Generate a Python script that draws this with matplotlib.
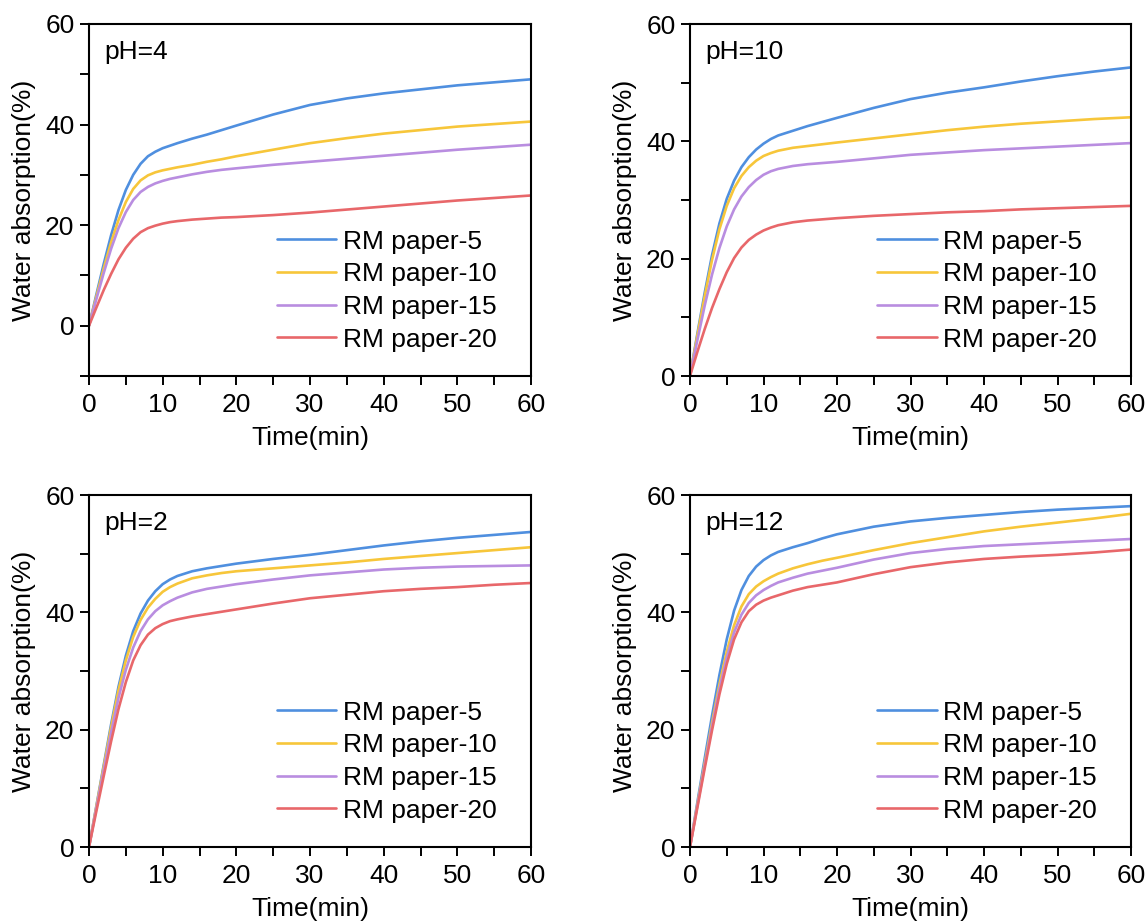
import matplotlib
matplotlib.use("Agg")
import matplotlib.pyplot as plt
from matplotlib.ticker import MultipleLocator

plt.rcParams['font.family'] = ['Liberation Sans', 'DejaVu Sans']

time = [0, 1, 2, 3, 4, 5, 6, 7, 8, 9, 10, 11, 12, 14, 16, 18, 20, 25, 30, 35, 40, 45, 50, 55, 60]
labels = ["RM paper-5", "RM paper-10", "RM paper-15", "RM paper-20"]
colors = ["#4f8fdf", "#f7c63a", "#b98de0", "#e8676a"]

ph4_p5 = [0, 6.2, 12.3, 18.0, 23.0, 27.0, 30.0, 32.2, 33.7, 34.6, 35.3, 35.8, 36.3, 37.2, 38.0, 38.9, 39.8, 42.0, 43.9, 45.2, 46.2, 47.0, 47.8, 48.4, 49.0]
ph4_p10 = [0, 5.8, 11.4, 16.6, 21.0, 24.6, 27.2, 28.9, 29.9, 30.5, 30.9, 31.2, 31.5, 32.0, 32.6, 33.1, 33.7, 35.0, 36.3, 37.3, 38.2, 38.9, 39.6, 40.1, 40.6]
ph4_p15 = [0, 5.3, 10.5, 15.3, 19.4, 22.6, 25.0, 26.6, 27.6, 28.3, 28.8, 29.2, 29.5, 30.1, 30.6, 31.0, 31.3, 32.0, 32.6, 33.2, 33.8, 34.4, 35.0, 35.5, 36.0]
ph4_p20 = [0, 3.6, 7.1, 10.3, 13.2, 15.5, 17.3, 18.6, 19.4, 19.9, 20.3, 20.6, 20.8, 21.1, 21.3, 21.5, 21.6, 22.0, 22.5, 23.1, 23.7, 24.3, 24.9, 25.4, 25.9]

ph10_p5 = [0, 7.2, 14.2, 20.6, 26.0, 30.2, 33.3, 35.6, 37.3, 38.6, 39.6, 40.4, 41.0, 41.8, 42.6, 43.3, 44.0, 45.7, 47.2, 48.3, 49.2, 50.2, 51.1, 51.9, 52.6]
ph10_p10 = [0, 6.9, 13.6, 19.8, 25.0, 29.0, 32.0, 34.1, 35.6, 36.7, 37.5, 38.0, 38.4, 38.9, 39.2, 39.5, 39.8, 40.5, 41.2, 41.9, 42.5, 43.0, 43.4, 43.8, 44.1]
ph10_p15 = [0, 6.1, 12.0, 17.3, 21.8, 25.5, 28.4, 30.6, 32.2, 33.4, 34.3, 34.9, 35.3, 35.8, 36.1, 36.3, 36.5, 37.1, 37.7, 38.1, 38.5, 38.8, 39.1, 39.4, 39.7]
ph10_p20 = [0, 4.1, 8.0, 11.6, 14.8, 17.7, 20.1, 21.9, 23.2, 24.1, 24.8, 25.3, 25.7, 26.2, 26.5, 26.7, 26.9, 27.3, 27.6, 27.9, 28.1, 28.4, 28.6, 28.8, 29.0]

ph2_p5 = [0, 7.0, 14.0, 20.9, 27.3, 32.6, 36.8, 39.8, 42.0, 43.6, 44.8, 45.6, 46.2, 47.0, 47.5, 47.9, 48.3, 49.1, 49.8, 50.6, 51.4, 52.1, 52.7, 53.2, 53.7]
ph2_p10 = [0, 6.9, 13.7, 20.4, 26.7, 31.8, 35.8, 38.7, 40.8, 42.3, 43.5, 44.3, 44.9, 45.8, 46.3, 46.7, 47.0, 47.5, 48.0, 48.5, 49.1, 49.6, 50.1, 50.6, 51.1]
ph2_p15 = [0, 6.6, 13.1, 19.5, 25.4, 30.2, 34.0, 36.8, 38.8, 40.2, 41.2, 41.9, 42.5, 43.4, 44.0, 44.4, 44.8, 45.6, 46.3, 46.8, 47.3, 47.6, 47.8, 47.9, 48.0]
ph2_p20 = [0, 6.1, 12.1, 18.0, 23.5, 28.1, 31.8, 34.4, 36.2, 37.3, 38.0, 38.5, 38.8, 39.3, 39.7, 40.1, 40.5, 41.5, 42.4, 43.0, 43.6, 44.0, 44.3, 44.7, 45.0]

ph12_p5 = [0, 7.6, 15.1, 22.4, 29.3, 35.4, 40.3, 43.8, 46.2, 47.8, 48.9, 49.7, 50.3, 51.1, 51.8, 52.6, 53.3, 54.6, 55.5, 56.1, 56.6, 57.1, 57.5, 57.8, 58.1]
ph12_p10 = [0, 7.2, 14.3, 21.2, 27.7, 33.3, 37.8, 41.0, 43.1, 44.4, 45.3, 46.0, 46.6, 47.5, 48.2, 48.8, 49.3, 50.6, 51.8, 52.8, 53.8, 54.6, 55.3, 56.0, 56.8]
ph12_p15 = [0, 7.0, 13.9, 20.6, 26.9, 32.3, 36.6, 39.6, 41.6, 42.9, 43.8, 44.5, 45.1, 45.9, 46.6, 47.1, 47.6, 49.0, 50.1, 50.8, 51.3, 51.6, 51.9, 52.2, 52.5]
ph12_p20 = [0, 6.7, 13.4, 19.9, 26.0, 31.2, 35.4, 38.3, 40.2, 41.3, 42.0, 42.5, 42.9, 43.7, 44.3, 44.7, 45.1, 46.5, 47.7, 48.5, 49.1, 49.5, 49.8, 50.2, 50.7]

panels = [
    ("pH=4", [ph4_p5, ph4_p10, ph4_p15, ph4_p20], (-10, 60)),
    ("pH=10", [ph10_p5, ph10_p10, ph10_p15, ph10_p20], (0, 60)),
    ("pH=2", [ph2_p5, ph2_p10, ph2_p15, ph2_p20], (0, 60)),
    ("pH=12", [ph12_p5, ph12_p10, ph12_p15, ph12_p20], (0, 60)),
]

W, H = 1147, 921
fig = plt.figure(figsize=(W / 100, H / 100), dpi=100)
boxes = [(89, 24, 531, 376), (690, 24, 1131, 376), (89, 495, 531, 847), (690, 495, 1131, 847)]
FS = 19

for (title, series, ylim), (x0, y0, x1, y1) in zip(panels, boxes):
    ax = fig.add_axes([x0 / W, 1 - y1 / H, (x1 - x0) / W, (y1 - y0) / H])
    for vals, lab, col in zip(series, labels, colors):
        ax.plot(time, vals, color=col, lw=1.9, label=lab,
                solid_joinstyle='round', solid_capstyle='round')
    ax.set_xlim(0, 60)
    ax.set_ylim(*ylim)
    ax.xaxis.set_major_locator(MultipleLocator(10))
    ax.xaxis.set_minor_locator(MultipleLocator(5))
    ax.yaxis.set_major_locator(MultipleLocator(20))
    ax.yaxis.set_minor_locator(MultipleLocator(10))
    ax.tick_params(which='both', direction='out', length=6.5, width=1.4,
                   top=False, right=False, labelsize=19)
    ax.tick_params(axis='x', which='both', pad=6)
    ax.tick_params(axis='y', which='both', pad=4)
    for s in ax.spines.values():
        s.set_linewidth(1.5)
    ax.set_xlabel("Time(min)", fontsize=FS, labelpad=6)
    ax.set_ylabel("Water absorption(%)", fontsize=FS)
    ax.yaxis.set_label_coords(-0.12, 0.5)
    ax.text(0.035, 0.92, title, transform=ax.transAxes, fontsize=FS,
            ha='left', va='center')
    ax.legend(loc='upper left', bbox_to_anchor=(0.425, 0.416), frameon=False,
              fontsize=FS, handlelength=2.25, handletextpad=0.25,
              labelspacing=0.33, borderpad=0, borderaxespad=0)

fig.savefig("out.png", dpi=100)
